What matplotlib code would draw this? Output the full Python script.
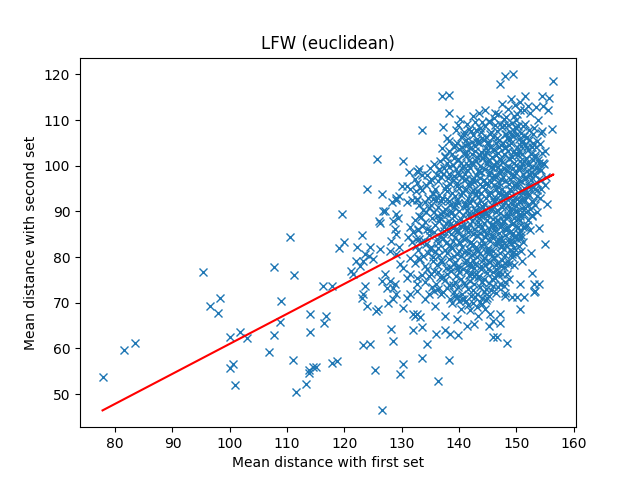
import numpy as np
import matplotlib
matplotlib.use("Agg")
import matplotlib.pyplot as plt

# sparse points, left / middle of the plot (x = mean dist first set, y = second set)
left_points = [
    (77.8, 53.7), (81.5, 59.6), (83.4, 61.1), (95.3, 76.7), (96.5, 69.2), (98.3, 71.0),
    (98.0, 67.7), (100.1, 62.4), (101.8, 63.5), (103.0, 62.2), (100.0, 55.7), (100.5, 56.7),
    (101.0, 51.9), (107.7, 77.8), (111.2, 76.0), (108.9, 70.3), (108.8, 65.8), (107.7, 63.0),
    (106.8, 59.2), (111.0, 57.4), (111.6, 50.4), (113.3, 52.3), (113.8, 54.6), (114.5, 55.9),
    (115.1, 55.9), (113.9, 55.3), (114.0, 67.5), (114.0, 63.5), (110.5, 84.4),
]

mid_points = [
    (125.7, 101.5), (130.3, 101.0), (131.3, 98.6), (132.7, 98.9), (124.0, 94.9), (126.6, 93.8),
    (130.0, 95.6), (131.0, 95.6), (131.5, 94.9), (132.5, 94.5), (129.0, 92.9), (129.6, 93.4),
    (128.4, 92.0), (129.1, 92.4), (130.9, 92.0), (131.8, 92.4), (132.6, 92.5), (119.6, 89.4),
    (126.7, 90.2), (127.1, 90.0), (126.1, 88.0), (126.3, 87.4), (129.0, 89.4), (128.5, 88.0),
    (129.3, 88.6), (128.8, 86.1), (129.0, 85.0), (131.5, 86.5), (132.0, 85.4), (131.2, 84.3),
    (132.5, 83.9), (131.8, 83.2), (132.9, 86.1), (123.0, 84.8), (120.0, 83.2), (119.1, 82.0),
    (122.2, 82.3), (124.5, 82.3), (124.3, 80.3), (123.6, 80.7), (123.3, 79.2), (125.0, 79.6),
    (122.7, 78.1), (122.1, 79.2), (126.2, 81.7), (128.2, 83.6), (128.0, 81.4), (129.6, 82.3),
    (129.1, 80.7), (121.1, 77.0), (121.5, 76.3), (116.3, 73.7), (117.9, 73.7), (123.6, 73.7),
    (127.1, 76.3), (128.0, 74.8), (127.4, 73.3), (128.5, 73.3), (126.5, 74.8), (129.7, 78.5),
    (130.3, 77.7), (131.5, 79.9), (131.5, 76.3), (132.6, 75.5), (130.9, 75.5), (132.9, 79.9),
    (123.3, 71.9), (123.0, 71.1), (123.9, 69.3), (116.8, 67.1), (116.4, 65.6), (123.3, 60.8),
    (124.5, 61.0), (125.9, 68.6), (125.6, 68.2), (127.7, 70.0), (128.5, 70.8), (128.2, 64.2),
    (128.5, 61.6), (117.9, 56.9), (118.7, 57.2), (125.4, 55.2), (130.3, 56.5), (129.7, 54.3),
    (126.5, 46.6), (132.0, 67.5), (132.3, 67.0), (132.0, 64.0), (130.3, 68.9), (130.9, 71.1),
    (128.8, 74.1), (129.1, 71.9), (131.5, 71.9), (132.6, 72.6), (132.6, 74.1),
]

edge_points = [
    (137.0, 115.2), (138.3, 115.4), (138.3, 111.6), (143.5, 111.5), (133.6, 107.9), (137.3, 108.4),
    (139.9, 109.0), (141.4, 109.2), (142.8, 109.5), (145.2, 109.9), (137.9, 106.1), (138.2, 105.5),
    (140.8, 107.3), (137.1, 103.9), (137.6, 101.9), (133.0, 99.3), (132.9, 98.6), (136.5, 99.2),
    (138.2, 98.2),
    (147.2, 117.8), (148.1, 119.6), (149.4, 120.0), (156.5, 118.5), (149.1, 114.7), (151.6, 115.2),
    (154.5, 115.2), (155.7, 114.9), (154.7, 113.0), (155.5, 112.3), (149.8, 113.2), (150.7, 112.1),
    (151.3, 112.3), (156.2, 108.1), (154.5, 107.7),
    (155.4, 91.6), (155.1, 82.8), (153.9, 86.3), (152.5, 81.0), (151.0, 79.2), (152.8, 76.6),
    (150.7, 74.1), (153.1, 74.1), (153.9, 74.1), (148.7, 75.2), (147.8, 73.7), (153.3, 72.6),
    (148.0, 72.2),
    (136.4, 52.9), (133.5, 58.0), (138.2, 57.4), (134.5, 61.0), (136.0, 63.1), (137.6, 64.0),
    (139.9, 63.0), (138.5, 63.1), (141.4, 64.9), (142.6, 65.3), (139.6, 66.4), (137.6, 67.1),
    (135.9, 69.3), (134.1, 70.8), (133.2, 66.8), (133.5, 64.6), (132.6, 67.5), (145.2, 64.9),
    (143.4, 67.1), (144.6, 68.6), (146.0, 62.4), (144.9, 71.1), (144.0, 69.7), (140.5, 70.8),
    (139.3, 71.5), (134.7, 71.9),
    (148.1, 71.5), (149.3, 71.3), (150.1, 71.3), (151.3, 71.3), (153.1, 72.4), (150.7, 68.6),
    (146.6, 62.4), (148.4, 61.3), (147.2, 67.5), (147.2, 65.6), (146.0, 66.0), (145.5, 67.5),
]

center_points = [
    (140.3, 86.7), (141.9, 83.1), (143.4, 87.6), (144.1, 91.2), (145.8, 84.4), (146.6, 88.2),
    (147.5, 82.7), (148.2, 86.0), (149.0, 90.6), (149.9, 84.6), (150.6, 88.9), (141.1, 94.7),
    (142.7, 97.3), (143.3, 93.1), (144.9, 96.3), (145.6, 99.7), (146.9, 94.1), (147.4, 97.0),
    (148.3, 99.0), (149.2, 93.3), (150.1, 96.0), (150.8, 99.8), (139.4, 91.6), (140.0, 97.9),
    (141.5, 100.1), (142.9, 90.4), (144.3, 85.7), (145.0, 81.6), (146.1, 80.1), (147.7, 91.3),
    (148.9, 95.0), (150.4, 92.3), (151.2, 94.4), (151.6, 97.5), (140.8, 81.2), (142.4, 79.4),
    (143.9, 77.3), (145.3, 79.0), (146.8, 76.0), (148.0, 78.7), (149.6, 81.9), (139.1, 80.3),
    (138.5, 87.2), (137.9, 92.8), (141.7, 89.6), (143.1, 84.8), (144.6, 89.5), (146.4, 92.7),
    (147.1, 86.5), (148.5, 89.2), (149.5, 87.4), (150.7, 85.7), (145.9, 103.6), (147.4, 101.3),
    (149.0, 105.8), (150.4, 103.0), (152.1, 100.9), (143.6, 102.4), (141.3, 97.2), (139.7, 95.5),
    (138.8, 89.9), (139.5, 86.1), (140.1, 83.4), (141.0, 91.8), (141.6, 86.3), (142.2, 94.2),
    (142.9, 81.6), (143.7, 96.0), (144.4, 82.9), (145.2, 93.6), (145.9, 87.0), (146.5, 97.6),
    (147.3, 84.2), (148.0, 93.1), (148.8, 83.2), (149.6, 97.9), (150.2, 90.0), (147.9, 88.0),
    (145.7, 90.6), (143.9, 89.0), (141.9, 78.0), (139.9, 77.4), (144.0, 74.5), (146.4, 78.2),
    (142.7, 75.8), (138.6, 82.3), (137.4, 85.8), (136.9, 89.4), (136.3, 83.0), (135.4, 92.8),
]

upper_points = [
    (139.5, 107.8), (140.2, 110.3), (141.0, 104.5), (141.8, 108.1), (142.5, 111.0), (143.2, 105.9),
    (144.0, 109.6), (144.7, 103.8), (145.5, 107.0), (146.3, 111.6), (147.0, 104.2), (147.8, 108.9),
    (148.5, 112.5), (149.3, 106.7), (150.1, 111.4), (150.9, 105.3), (151.6, 109.2), (152.4, 111.5),
    (153.1, 108.3), (153.8, 110.1), (139.8, 101.3), (140.6, 99.4), (141.3, 102.7), (142.1, 100.6),
    (142.8, 103.3), (143.5, 98.9), (144.2, 101.6), (145.0, 104.7), (145.7, 97.5), (146.5, 100.9),
    (147.2, 99.0), (148.0, 103.8), (148.7, 101.5), (149.5, 99.6), (150.3, 102.4), (151.0, 100.3),
    (151.8, 104.0), (152.6, 98.7), (153.3, 101.9), (154.0, 99.3), (140.9, 106.8), (142.3, 105.2),
    (143.8, 107.4), (145.1, 101.0), (146.7, 106.1), (148.2, 107.0), (149.8, 108.4), (151.3, 106.6),
    (152.9, 104.9), (154.3, 107.2), (139.2, 104.1), (144.5, 112.3), (147.6, 113.6), (150.6, 114.0),
    (152.0, 113.1), (153.5, 112.8),
]

right_points = [
    (152.3, 95.4), (153.0, 92.1), (153.7, 94.7), (154.4, 96.8), (152.7, 89.3), (151.9, 87.0),
    (150.9, 84.2), (151.5, 90.8), (153.2, 97.9), (154.1, 93.0), (149.6, 83.4), (150.3, 86.5),
    (151.2, 92.6), (152.0, 93.8), (153.6, 89.9), (154.6, 100.5), (155.0, 95.8), (150.8, 81.3),
    (149.2, 80.7), (152.4, 86.0),
]

# dense core, written column by column
core_x = [
    132.3,132.9,132.5,132.8,132.4,133.0,132.6,132.7,132.3,
    133.5,133.2,133.7,133.4,133.0,133.6,133.3,133.8,133.1,133.5,133.2,133.6,
    134.1,134.4,134.0,134.6,134.2,133.9,134.5,134.1,134.3,134.0,134.6,134.2,134.4,
    135.3,134.8,135.1,135.4,134.9,135.2,134.7,135.0,135.3,134.8,135.1,135.4,134.9,135.2,135.0,
    135.6,136.0,135.7,136.2,135.5,135.9,136.1,135.6,135.8,136.2,135.7,136.0,135.5,135.9,136.1,135.7,
    136.8,136.4,136.7,136.3,136.9,136.6,136.4,136.8,137.0,136.5,136.7,136.3,136.9,136.6,136.4,136.8,136.5,136.7,
    137.2,137.6,137.3,137.7,137.1,137.5,137.8,137.2,137.4,137.7,137.3,137.6,137.1,137.5,137.8,137.2,137.4,137.6,
    138.4,138.0,138.3,137.9,138.5,138.2,138.0,138.4,138.6,138.1,138.3,137.9,138.5,138.2,138.0,138.4,138.1,138.3,137.9,138.2,
    138.8,139.2,138.9,139.3,138.7,139.1,139.4,138.8,139.0,139.3,138.9,139.2,138.7,139.1,139.4,138.8,139.0,139.2,138.9,139.1,138.8,139.3,
    140.0,139.6,139.9,139.5,140.1,139.8,139.6,140.0,140.2,139.7,139.9,139.5,140.1,139.8,139.6,140.0,139.7,139.9,139.5,139.8,140.1,139.7,
    140.4,140.8,140.5,140.9,140.3,140.7,141.0,140.4,140.6,140.9,140.5,140.8,140.3,140.7,141.0,140.4,140.6,140.8,140.5,140.7,140.4,140.9,140.6,140.3,
    141.6,141.2,141.5,141.1,141.7,141.4,141.2,141.6,141.8,141.3,141.5,141.1,141.7,141.4,141.2,141.6,141.3,141.5,141.1,141.4,141.7,141.3,141.6,141.2,
    142.0,142.4,142.1,142.5,141.9,142.3,142.6,142.0,142.2,142.5,142.1,142.4,141.9,142.3,142.6,142.0,142.2,142.4,142.1,142.3,142.0,142.5,142.2,141.9,142.4,142.1,
    143.2,142.8,143.1,142.7,143.3,143.0,142.8,143.2,143.4,142.9,143.1,142.7,143.3,143.0,142.8,143.2,142.9,143.1,142.7,143.0,143.3,142.9,143.2,142.8,143.1,143.0,
    143.6,144.0,143.7,144.1,143.5,143.9,144.2,143.6,143.8,144.1,143.7,144.0,143.5,143.9,144.2,143.6,143.8,144.0,143.7,143.9,143.6,144.1,143.8,143.5,144.0,143.7,
    144.8,144.4,144.7,144.3,144.9,144.6,144.4,144.8,145.0,144.5,144.7,144.3,144.9,144.6,144.4,144.8,144.5,144.7,144.3,144.6,144.9,144.5,144.8,144.4,144.7,144.6,
    145.2,145.6,145.3,145.7,145.1,145.5,145.8,145.2,145.4,145.7,145.3,145.6,145.1,145.5,145.8,145.2,145.4,145.6,145.3,145.5,145.2,145.7,145.4,145.1,145.6,145.3,
    146.4,146.0,146.3,145.9,146.5,146.2,146.0,146.4,146.6,146.1,146.3,145.9,146.5,146.2,146.0,146.4,146.1,146.3,145.9,146.2,146.5,146.1,146.4,146.0,146.3,146.2,
    146.8,147.2,146.9,147.3,146.7,147.1,147.4,146.8,147.0,147.3,146.9,147.2,146.7,147.1,147.4,146.8,147.0,147.2,146.9,147.1,146.8,147.3,147.0,146.7,147.2,146.9,
    148.0,147.6,147.9,147.5,148.1,147.8,147.6,148.0,148.2,147.7,147.9,147.5,148.1,147.8,147.6,148.0,147.7,147.9,147.5,147.8,148.1,147.7,148.0,147.6,147.9,
    148.4,148.8,148.5,148.9,148.3,148.7,149.0,148.4,148.6,148.9,148.5,148.8,148.3,148.7,149.0,148.4,148.6,148.8,148.5,148.7,148.4,148.9,148.6,148.3,
    149.6,149.2,149.5,149.1,149.7,149.4,149.2,149.6,149.8,149.3,149.5,149.1,149.7,149.4,149.2,149.6,149.3,149.5,149.1,149.4,149.7,149.3,149.6,
    150.0,150.4,150.1,150.5,149.9,150.3,150.6,150.0,150.2,150.5,150.1,150.4,149.9,150.3,150.6,150.0,150.2,150.4,150.1,150.3,150.0,
    151.2,150.8,151.1,150.7,151.3,151.0,150.8,151.2,151.4,150.9,151.1,150.7,151.3,151.0,150.8,151.2,150.9,151.1,
    151.6,152.0,151.7,152.1,151.5,151.9,152.2,151.6,151.8,152.1,151.7,152.0,151.5,151.9,152.2,
    152.8,152.4,152.7,152.3,152.9,152.6,152.4,152.8,153.0,152.5,152.7,152.3,152.9,
    153.2,153.6,153.3,153.7,153.1,153.5,153.8,153.2,153.4,153.7,
    154.4,154.0,154.3,153.9,154.5,154.2,
    155.2,154.8,155.1,
]
core_y = [
    78.8,81.6,82.4,85.9,88.2,89.1,92.7,96.3,97.1,
    76.1,79.5,80.3,83.2,84.0,86.9,88.8,90.4,91.3,94.6,95.2,98.0,
    74.6,77.3,78.1,80.8,82.9,83.5,86.2,87.7,89.9,92.1,93.0,95.7,97.9,
    73.5,75.8,76.4,79.1,81.7,82.3,84.8,86.0,88.5,90.7,91.4,93.9,96.4,97.0,99.6,
    72.6,74.2,77.0,78.3,80.0,81.2,83.9,85.4,87.1,89.0,89.8,92.6,94.1,95.0,98.0,100.3,
    71.9,73.0,75.6,76.8,79.4,80.5,82.0,84.5,85.3,87.8,88.6,91.0,92.2,93.7,96.6,97.5,99.1,101.0,
    72.4,74.9,75.7,77.6,78.9,81.5,83.0,84.1,86.6,87.4,89.9,90.6,92.9,94.8,95.6,98.2,99.4,102.1,
    70.8,73.3,74.0,76.2,77.9,79.6,80.8,82.6,85.0,85.8,88.0,89.4,91.5,92.3,94.4,96.0,97.3,99.8,100.6,103.2,
    69.9,72.3,73.8,74.5,77.0,78.4,79.0,81.9,83.6,84.4,86.3,88.9,89.6,90.9,93.3,94.0,96.9,97.8,100.2,101.8,102.5,104.6,
    70.4,71.2,73.4,75.9,76.8,78.1,80.6,81.3,83.1,85.5,86.0,87.6,90.1,91.8,92.6,95.2,96.3,98.5,99.2,101.4,103.7,105.0,
    68.7,70.9,72.0,74.3,75.1,77.4,78.6,80.2,82.3,83.9,84.7,87.0,88.3,89.2,91.4,93.6,94.3,96.8,97.6,99.9,100.7,102.8,104.1,106.3,
    69.5,70.3,73.0,73.8,76.0,76.9,79.3,81.0,81.8,84.2,85.6,86.4,88.9,90.4,91.1,92.9,95.0,95.9,98.3,99.0,101.3,102.2,104.7,105.6,
    68.4,70.0,71.5,72.7,74.8,76.2,77.7,78.8,80.4,82.9,83.4,85.0,87.3,88.0,89.5,91.9,92.7,94.6,96.2,97.1,99.6,100.5,102.6,103.9,106.8,107.5,
    69.0,71.3,72.0,74.1,75.6,76.3,78.5,80.0,81.4,82.2,84.6,86.1,86.8,89.0,90.3,91.5,93.8,94.5,96.5,98.0,98.8,101.0,102.0,104.4,105.3,107.9,
    70.1,71.0,73.5,74.6,75.9,78.0,79.4,80.9,82.6,83.8,85.3,86.6,88.5,89.7,90.9,92.4,94.0,95.5,97.4,98.6,100.0,101.7,103.1,104.9,106.0,108.2,
    70.6,72.4,73.1,75.3,76.5,78.2,79.7,81.1,81.9,84.3,85.0,87.5,88.2,90.0,91.6,92.9,94.8,96.1,96.9,99.2,100.4,102.3,103.0,105.6,106.4,108.7,
    71.4,72.9,74.4,75.2,77.3,78.9,80.3,81.2,83.5,84.8,86.2,87.0,89.3,90.5,91.3,93.5,94.2,96.4,97.9,98.7,101.2,101.9,104.0,105.1,107.3,109.5,
    72.2,73.7,75.5,76.7,77.5,79.8,81.3,82.7,83.4,85.9,86.9,88.4,89.9,92.0,92.8,94.9,95.8,97.8,99.4,100.2,102.4,103.5,105.0,106.2,108.9,110.4,
    73.4,74.2,76.6,78.1,78.8,81.0,82.3,84.0,85.2,86.8,88.1,89.6,90.3,92.5,93.9,95.3,96.2,98.5,99.8,101.5,102.9,104.6,105.7,107.6,109.1,111.4,
    74.6,76.3,77.8,79.3,80.4,81.8,83.6,84.9,86.4,87.9,89.0,91.0,92.1,93.5,95.0,96.7,97.5,99.6,100.8,102.6,104.2,105.0,106.9,108.5,110.2,
    76.2,78.4,79.2,81.5,82.6,83.9,85.6,86.5,88.7,89.8,91.5,93.0,93.8,95.9,97.2,98.9,100.0,101.8,103.3,104.5,106.0,107.4,109.0,110.7,
    78.3,80.0,81.1,83.0,84.5,85.3,87.2,88.6,90.0,91.7,92.4,94.4,95.7,97.6,98.2,100.5,101.9,103.0,104.9,106.5,107.7,109.4,111.0,
    80.7,82.4,83.9,85.0,86.7,88.3,89.4,91.1,92.7,94.0,95.4,96.9,98.4,99.6,101.1,102.8,104.1,105.8,107.0,108.6,110.1,
    83.4,84.9,86.5,88.1,89.5,90.8,92.6,94.0,95.1,96.6,98.1,99.5,101.0,102.6,104.3,105.5,107.1,108.8,
    86.6,88.2,89.9,91.3,92.4,94.2,95.7,97.1,98.8,100.1,101.7,103.4,104.6,106.2,107.9,
    88.9,90.6,92.2,93.5,95.3,96.8,98.0,99.7,101.2,102.5,104.1,105.6,107.0,
    91.5,93.4,95.0,96.3,98.1,99.4,101.2,102.4,104.0,105.4,
    94.8,97.0,99.1,100.6,102.8,104.7,
    97.5,100.4,103.3,
]

# fitted regression line
fit_slope = 0.6565
fit_intercept = -4.64

title = "LFW (euclidean)"
x_label = "Mean distance with first set"
y_label = "Mean distance with second set"

pts = left_points + mid_points + edge_points + center_points + upper_points + right_points
first_set = np.array([p[0] for p in pts] + core_x)
second_set = np.array([p[1] for p in pts] + core_y)

fig, ax = plt.subplots(figsize=(6.4, 4.8), dpi=100)
ax.plot(first_set, second_set, "x", color="C0")
ax.plot(first_set, fit_slope * first_set + fit_intercept, "r")
ax.set_title(title)
ax.set_xlabel(x_label)
ax.set_ylabel(y_label)
fig.savefig("out.png")
